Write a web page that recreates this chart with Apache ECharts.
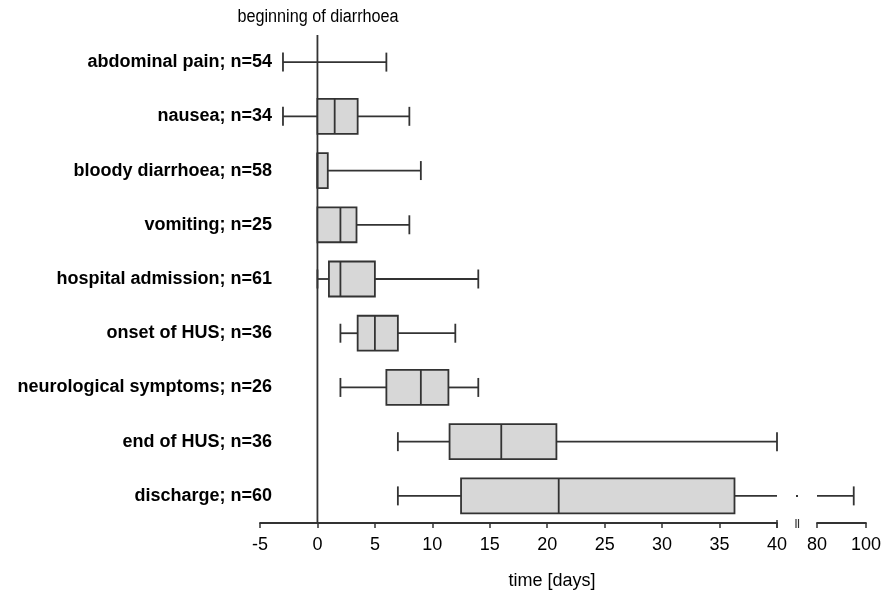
<!DOCTYPE html>
<html>
<head>
<meta charset="utf-8">
<script src="https://cdn.jsdelivr.net/npm/echarts@6/dist/echarts.min.js"></script>
<style>
html,body{margin:0;padding:0;background:#fff;}
#c{width:884px;height:597px;}
</style>
</head>
<body>
<div id="c"></div>
<script>
const categories = ['abdominal pain; n=54','nausea; n=34','bloody diarrhoea; n=58','vomiting; n=25','hospital admission; n=61','onset of HUS; n=36','neurological symptoms; n=26','end of HUS; n=36','discharge; n=60'];
const minVals = [-3, -3, 0, 0, 0, 2, 2, 7, 7];
const q1Vals  = [0, 0, 0, 0, 1, 3.5, 6, 11.5, 12.5];
const medVals = [0, 1.5, 0, 2, 2, 5, 9, 16, 21];
const q3Vals  = [0, 3.5, 0.9, 3.4, 5, 7, 11.4, 20.8, 36.3];
const maxVals = [6, 8, 9, 8, 14, 12, 14, 40, 95];
const ticksMain = [-5, 40, 5];   // min, max, interval
const ticksBreak = [80, 100, 20];
const refLine = 0;

const FONT = "'Liberation Sans Narrow','Arial Narrow','Liberation Sans',Arial,sans-serif";
const STROKE = '#333';
const FILL = '#d7d7d7';

const rows = categories.map((c, i) => [i, minVals[i], q1Vals[i], medVals[i], q3Vals[i], maxVals[i]]);

function makeRender(lo, hi, showBreakDot) {
  return function (params, api) {
    const i = api.value(0);
    const mn = api.value(1), q1 = api.value(2), md = api.value(3), q3 = api.value(4), mx = api.value(5);
    const band = api.size([0, 1])[1];
    const yc = api.coord([lo, i])[1];
    const bh = band * 0.645, ch = band * 0.35;
    const X = v => api.coord([v, i])[0];
    const cl = v => Math.max(lo, Math.min(hi, v));
    const children = [];
    const lineStyle = { stroke: STROKE, lineWidth: 1.8 };
    function seg(a, b) {
      if (b < lo || a > hi || b <= a) return;
      children.push({ type: 'line', shape: { x1: X(cl(a)), y1: yc, x2: X(cl(b)), y2: yc }, style: lineStyle });
    }
    function cap(v) {
      if (v < lo || v > hi) return;
      children.push({ type: 'line', shape: { x1: X(v), y1: yc - ch / 2, x2: X(v), y2: yc + ch / 2 }, style: lineStyle });
    }
    seg(mn, q1);
    seg(q3, mx);
    if (mn < q1) cap(mn);
    if (mx > q3) cap(mx);
    if (q3 > lo && q1 < hi && q3 > q1) {
      const x1 = X(cl(q1)), x2 = X(cl(q3));
      children.push({ type: 'rect', shape: { x: x1, y: yc - bh / 2, width: x2 - x1, height: bh }, style: { fill: FILL, stroke: STROKE, lineWidth: 1.8 } });
      if (md >= lo && md <= hi) {
        children.push({ type: 'line', shape: { x1: X(md), y1: yc - bh / 2, x2: X(md), y2: yc + bh / 2 }, style: lineStyle });
      }
    }
    if (showBreakDot && mx > hi) {
      children.push({ type: 'rect', shape: { x: X(hi) + 19, y: yc - 1, width: 2, height: 2 }, style: { fill: STROKE } });
    }
    return { type: 'group', children };
  };
}

const chart = echarts.init(document.getElementById('c'), null, { renderer: 'canvas' });

const commonY = {
  type: 'category', data: categories, inverse: true,
  axisLine: { show: false }, axisTick: { show: false }, splitLine: { show: false }
};

const option = {
  animation: false,
  backgroundColor: '#fff',
  grid: [
    { left: 260, right: 107, top: 35, bottom: 74 },
    { left: 817, right: 16, top: 35, bottom: 74 }
  ],
  xAxis: [
    {
      type: 'value', gridIndex: 0, min: ticksMain[0], max: ticksMain[1], interval: ticksMain[2],
      axisLine: { show: true, lineStyle: { color: STROKE, width: 1.8 } },
      axisTick: { show: true, length: 5, lineStyle: { color: STROKE, width: 1.5 } },
      axisLabel: { color: '#000', fontSize: 18, fontFamily: FONT, margin: 13 },
      splitLine: { show: false }
    },
    {
      type: 'value', gridIndex: 1, min: ticksBreak[0], max: ticksBreak[1], interval: ticksBreak[2],
      axisLine: { show: true, lineStyle: { color: STROKE, width: 1.8 } },
      axisTick: { show: true, length: 5, lineStyle: { color: STROKE, width: 1.5 } },
      axisLabel: { color: '#000', fontSize: 18, fontFamily: FONT, margin: 13 },
      splitLine: { show: false }
    }
  ],
  yAxis: [
    Object.assign({ gridIndex: 0, axisLabel: { color: '#000', fontSize: 18, fontWeight: 'bold', fontFamily: FONT, margin: -12 } }, commonY),
    Object.assign({ gridIndex: 1, axisLabel: { show: false } }, commonY)
  ],
  graphic: [
    { type: 'text', x: 318, y: 17, scaleX: 0.9, style: { text: 'beginning of diarrhoea', fontSize: 18, fontFamily: FONT, fill: '#000', textAlign: 'center', textVerticalAlign: 'middle' } },
    { type: 'text', x: 552, y: 581, style: { text: 'time [days]', fontSize: 18, fontFamily: FONT, fill: '#000', textAlign: 'center', textVerticalAlign: 'middle' } }
  ],
  series: [
    {
      type: 'custom', name: 'reference', xAxisIndex: 0, yAxisIndex: 0, silent: true, clip: false,
      data: [[refLine, 0]],
      renderItem: function (params, api) {
        const cs = params.coordSys;
        const x0 = api.coord([api.value(0), 0])[0];
        const xe = api.coord([ticksMain[1], 0])[0];
        const yb = cs.y + cs.height;
        const st = { stroke: STROKE, lineWidth: 1.8 };
        return { type: 'group', children: [
          { type: 'line', shape: { x1: x0, y1: cs.y, x2: x0, y2: yb }, style: st },
          { type: 'line', shape: { x1: xe + 19, y1: yb - 4, x2: xe + 19, y2: yb + 5 }, style: { stroke: STROKE, lineWidth: 1.2 } },
          { type: 'line', shape: { x1: xe + 21.5, y1: yb - 4, x2: xe + 21.5, y2: yb + 5 }, style: { stroke: STROKE, lineWidth: 1.2 } },
          { type: 'line', shape: { x1: xe, y1: yb - 3, x2: xe, y2: yb + 5 }, style: { stroke: STROKE, lineWidth: 1.5 } }
        ] };
      }
    },
    {
      type: 'custom', name: 'main', xAxisIndex: 0, yAxisIndex: 0, silent: true,
      data: rows, encode: { x: [1, 2, 3, 4, 5], y: 0 },
      renderItem: makeRender(ticksMain[0], ticksMain[1], true)
    },
    {
      type: 'custom', name: 'break', xAxisIndex: 1, yAxisIndex: 1, silent: true,
      data: rows, encode: { x: [1, 2, 3, 4, 5], y: 0 },
      renderItem: makeRender(ticksBreak[0], ticksBreak[1], false)
    }
  ]
};
chart.setOption(option);
</script>
</body>
</html>
